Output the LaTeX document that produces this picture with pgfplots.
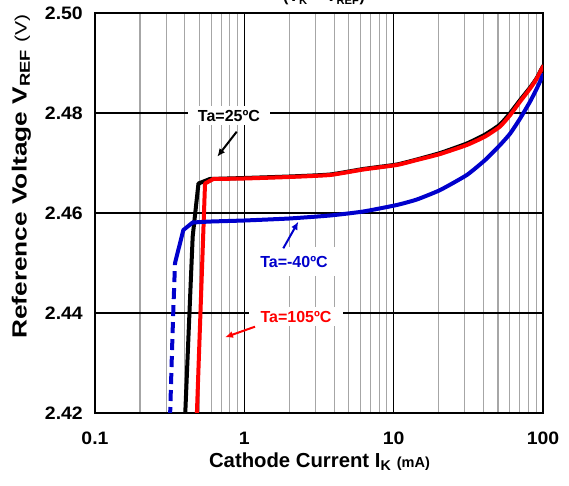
\documentclass[border=0pt]{standalone}
\usepackage{fontspec}
\setmainfont{Liberation Sans}
\newfontfamily\ylblfont{Liberation Sans}[FakeStretch=1.28]
\newfontfamily\tickfont{Liberation Sans}[FakeStretch=1.08]
\usepackage{pgfplots}
\pgfplotsset{compat=1.18}
\usetikzlibrary{arrows.meta}
\definecolor{cblue}{RGB}{0,0,204}
\definecolor{cred}{RGB}{255,0,0}
\begin{document}
\begin{tikzpicture}[x=1pt,y=1pt]
\path[use as bounding box] (-95,-73) rectangle (474,413);
\begin{axis}[
  at={(0,0)}, anchor=south west, scale only axis,
  width=448pt, height=400pt,
  xmode=log, log basis x=10,
  xmin=0.1, xmax=100, ymin=2.42, ymax=2.50,
  log ticks with fixed point,
  ytick={2.42,2.44,2.46,2.48,2.50},
  yticklabels={2.42,2.44,2.46,2.48,2.50},
  /pgf/number format/assume math mode=true,
  xmajorgrids, xminorgrids, ymajorgrids,
  major grid style={black, line width=1.1pt},
  minor grid style={gray!70, line width=1.1pt},
  major tick length=0pt, minor tick length=0pt,
  axis line style={line width=1.8pt},
  ticklabel style={font=\tickfont\fontsize{18}{20}\selectfont\bfseries},
  xticklabel style={anchor=north, inner sep=0pt, yshift=-19pt},
  yticklabel style={anchor=east, inner sep=0pt, xshift=-12pt},
  every axis plot/.append style={line width=4pt, line join=round, line cap=round},
]
% Ta = 25 C (black)
\addplot[black] coordinates {
 (0.401,2.4190) (0.428,2.4393) (0.451,2.4553) (0.493,2.4659) (0.589,2.4668)
};
\addplot[black, smooth, tension=0.3] coordinates {
 (0.589,2.4668)
 (1,2.4670) (2,2.4673) (3.75,2.4677) (6.27,2.4688) (10.5,2.4697) (14.3,2.4707)
 (20.5,2.4720) (30.9,2.4739) (41.0,2.4757) (51.6,2.4777) (60.3,2.4800)
 (70.3,2.4826) (82.0,2.4851) (90.9,2.4870) (100,2.4894)
};
% Ta = 105 C (red)
\addplot[cred] coordinates {
 (0.480,2.4190) (0.5455,2.4659) (0.62,2.4668)
};
\addplot[cred, smooth, tension=0.3] coordinates {
 (0.62,2.4668)
 (1,2.4669) (2,2.4672) (3.75,2.4676) (6.27,2.4687) (10.5,2.4696) (14.3,2.4706)
 (20.5,2.4718) (30.9,2.4736) (41.0,2.4753) (51.6,2.4773) (60.3,2.4796)
 (70.3,2.4823) (82.0,2.4849) (90.9,2.4869) (100,2.4893)
};
% Ta = -40 C (blue), dashed part
\addplot[cblue, line cap=butt, dash pattern=on 11pt off 6pt] coordinates {
 (0.318,2.4190) (0.328,2.4326) (0.3346,2.4406) (0.3435,2.4500)
};
% Ta = -40 C (blue), solid part
\addplot[cblue] coordinates {
 (0.3435,2.4500) (0.3906,2.4566) (0.451,2.4581)
};
\addplot[cblue, smooth, tension=0.3] coordinates {
 (0.451,2.4581) (0.6,2.4583)
 (1,2.4585) (2,2.4589) (3.75,2.4595) (6.27,2.4603) (10.5,2.4616)
 (14.3,2.4627) (20.5,2.4646) (30.9,2.4676) (41.0,2.4706) (51.6,2.4736)
 (60.3,2.4759) (70.3,2.4789) (82.0,2.4823) (90.9,2.4849) (100,2.4876)
};
\end{axis}
% annotation boxes and arrows
\node[fill=white, inner xsep=10pt, inner ysep=4pt, font=\fontsize{16}{18}\selectfont\bfseries] at (134,297.2) {Ta=25ºC};
\draw[line width=2pt, -{Latex[length=8pt,width=7pt]}] (141.7,281.3) -- (122.3,256.3);
\node[fill=white, inner xsep=14pt, inner ysep=9pt, text=cblue, font=\fontsize{16}{18}\selectfont\bfseries] at (199,151.3) {Ta=-40ºC};
\draw[cblue, line width=2pt, -{Latex[length=8pt,width=7pt]}] (188.3,164.7) -- (203.3,191.3);
\node[fill=white, inner xsep=12pt, inner ysep=4pt, text=cred, font=\fontsize{16}{18}\selectfont\bfseries] at (201,96.3) {Ta=105ºC};
\draw[cred, line width=2pt, -{Latex[length=8pt,width=7pt]}] (160,86.3) -- (130,75.7);
% axis labels
\node[anchor=base, inner sep=0pt, font=\fontsize{20.3}{22}\selectfont\bfseries] at (224.5,-54.3) {Cathode Current I\textsubscript{K} \fontsize{14.5}{16}\selectfont(mA)};
\node[anchor=base, inner sep=0pt, rotate=90, font=\ylblfont\fontsize{20.5}{22}\selectfont\bfseries] at (-68.3,236.5) {Reference Voltage V\textsubscript{REF} {\mdseries\fontsize{16.5}{18}\selectfont(V)}};
% cut-off title
\node[anchor=base, font=\fontsize{16}{18}\selectfont\bfseries] at (229,411.5) {(V\textsubscript{K} = V\textsubscript{REF})};
\end{tikzpicture}
\end{document}
